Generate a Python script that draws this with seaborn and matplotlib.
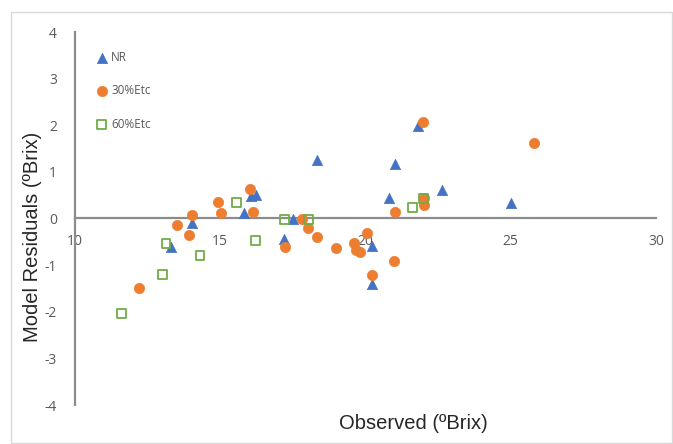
import pandas as pd
import matplotlib.pyplot as plt
import seaborn as sns
from matplotlib.patches import Rectangle

# ==== Data ====
nr_x = [13.30, 14.04, 15.82, 16.05, 16.22, 17.21, 17.52, 18.32, 20.23, 20.23,
        20.81, 21.02, 21.82, 22.62, 25.01]
nr_y = [-0.61, -0.09, 0.12, 0.48, 0.50, -0.45, -0.02, 1.25, -0.60, -1.41,
        0.44, 1.16, 1.99, 0.61, 0.34]

etc30_x = [12.21, 13.52, 13.91, 14.04, 14.92, 15.03, 16.02, 16.14, 17.23, 17.80,
           18.03, 18.32, 19.00, 19.60, 19.67, 19.81, 20.04, 20.21, 20.99, 21.02,
           21.99, 22.00, 22.00, 25.80]
etc30_y = [-1.50, -0.15, -0.36, 0.08, 0.36, 0.11, 0.64, 0.14, -0.61, -0.02,
           -0.21, -0.39, -0.64, -0.53, -0.68, -0.72, -0.32, -1.21, -0.91, 0.14,
           2.06, 0.43, 0.29, 1.63]

etc60_x = [11.60, 13.02, 13.13, 14.30, 15.57, 16.22, 17.21, 18.03, 21.61, 22.01]
etc60_y = [-2.03, -1.20, -0.54, -0.79, 0.34, -0.47, -0.02, -0.02, 0.23, 0.43]

x_ticks = [10, 15, 20, 25, 30]
y_ticks = [-4, -3, -2, -1, 0, 1, 2, 3, 4]

BLUE, ORANGE, GREEN = "#4472C4", "#ED7D31", "#70AD47"
AXIS = "#8C8C8C"
TICK = "#595959"

# ==== Figure ====
sns.set_style("white")
plt.rcParams['font.family'] = ['Open Sans', 'DejaVu Sans']
plt.rcParams['axes.unicode_minus'] = False

fig = plt.figure(figsize=(6.73, 4.44), dpi=100)
ax = fig.add_axes([75 / 673, 39 / 444, 581 / 673, 373 / 444])

sns.scatterplot(x=nr_x, y=nr_y, marker="^", s=55, color=BLUE,
                edgecolor=BLUE, linewidth=0.5, label="NR", ax=ax, zorder=3)
sns.scatterplot(x=etc30_x, y=etc30_y, marker="o", s=55, color=ORANGE,
                edgecolor=ORANGE, linewidth=0.5, label="30%Etc", ax=ax, zorder=4)
sns.scatterplot(x=etc60_x, y=etc60_y, marker="s", s=40, facecolor="none",
                edgecolor=GREEN, linewidth=1.3, label="60%Etc", ax=ax, zorder=5)

ax.set_xlim(10, 30)
ax.set_ylim(-4, 4)
ax.set_xticks(x_ticks)
ax.set_yticks(y_ticks)

# axes cross at y = 0, Excel style
for side in ["top", "right"]:
    ax.spines[side].set_visible(False)
ax.spines["bottom"].set_position(("data", 0))
ax.spines["bottom"].set_color(AXIS)
ax.spines["left"].set_color(AXIS)
ax.spines["bottom"].set_linewidth(1.6)
ax.spines["left"].set_linewidth(1.6)
ax.spines["bottom"].set_zorder(1)

ax.tick_params(axis="x", length=0, pad=11, labelsize=10, labelcolor=TICK)
ax.tick_params(axis="y", length=0, pad=13, labelsize=10, labelcolor=TICK)

ax.set_xlabel("Observed (ºBrix)", fontsize=14.5, family=["Liberation Sans"])
ax.set_ylabel("Model Residuals (ºBrix)", fontsize=14.5, family=["Liberation Sans"])
ax.xaxis.label.set_va("center")
ax.yaxis.label.set_va("center")
ax.xaxis.set_label_coords((413 - 75) / 581, (405 - 423) / 373)
ax.yaxis.set_label_coords((33 - 75) / 581, (405 - 237) / 373)

leg = ax.legend(loc="upper left", bbox_to_anchor=(0.036, 0.95), frameon=False,
                fontsize=8.5, handlelength=1.0, handletextpad=0.3,
                labelspacing=1.75, borderpad=0, borderaxespad=0)
for t in leg.get_texts():
    t.set_color(TICK)

# chart area border
fig.patches.append(Rectangle((11 / 673, 1 / 444), 661 / 673, 431 / 444,
                             transform=fig.transFigure, fill=False,
                             edgecolor="#D9D9D9", linewidth=1.0))

plt.savefig("out.png", dpi=100)
